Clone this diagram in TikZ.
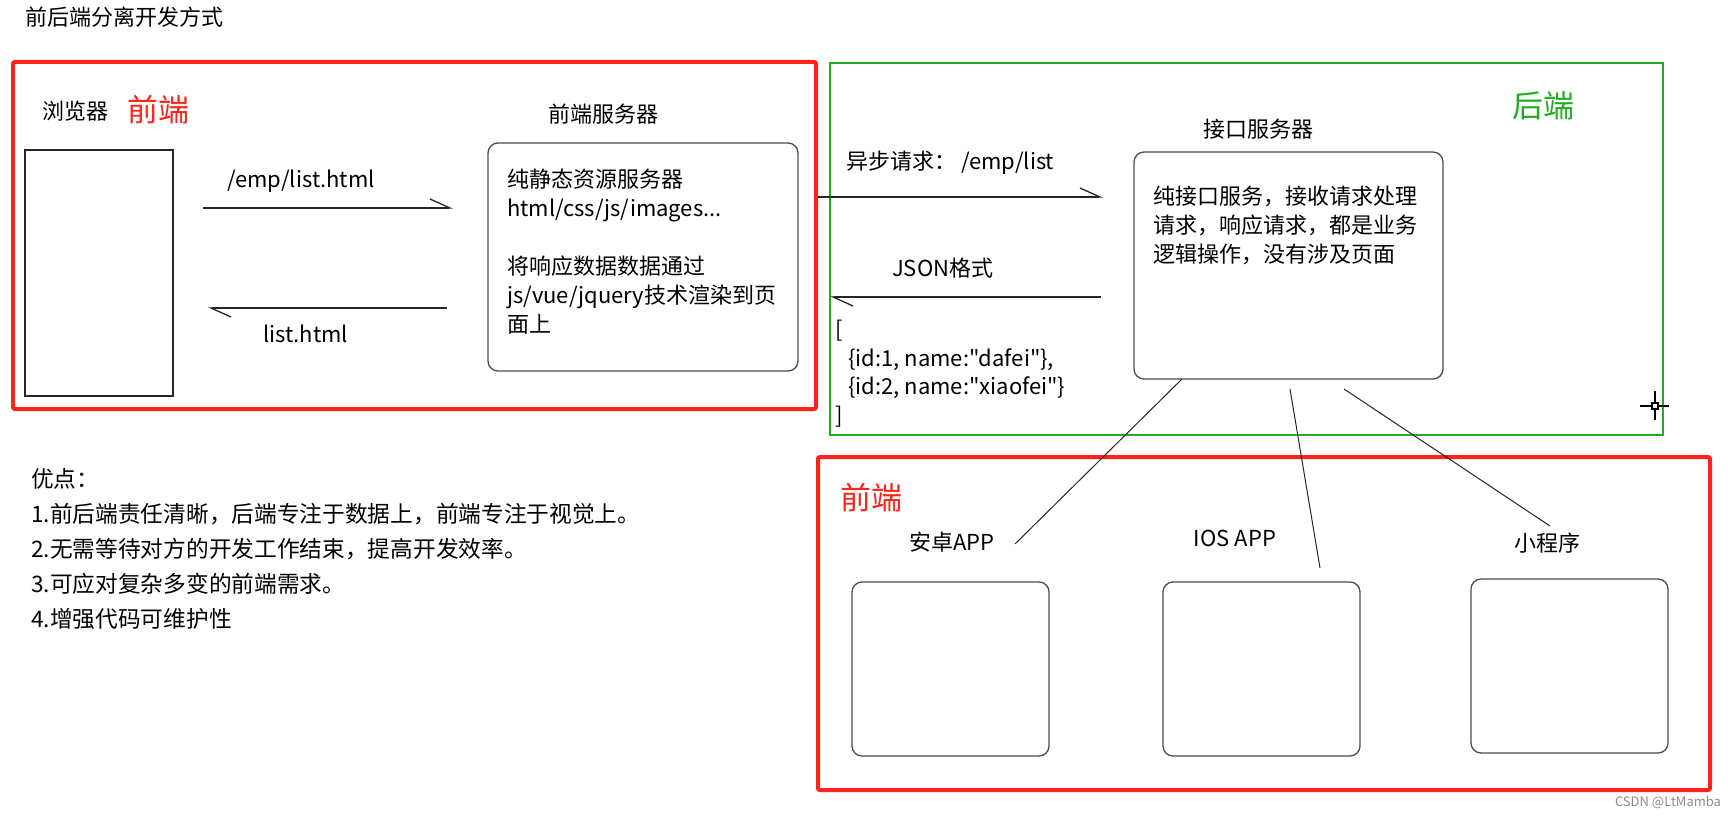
\documentclass[tikz,border=0pt]{standalone}
\usepackage{fontspec}
\setmainfont{Noto Sans CJK SC}[Ligatures=TeXOff]
\usetikzlibrary{arrows.meta}

\definecolor{frontred}{RGB}{255,36,28}
\definecolor{backgreen}{RGB}{34,172,34}

\tikzset{
  txt/.style={font=\fontsize{22}{29}\selectfont, inner sep=0pt},
  bigtxt/.style={font=\fontsize{31}{36}\selectfont, inner sep=0pt},
  box/.style={draw=black!70, line width=1.3pt, rounded corners=10pt},
  zone/.style={draw=frontred, line width=4pt, rounded corners=2pt},
  backzone/.style={draw=backgreen, line width=2pt},
  half/.style={draw=black!85, line width=1.3pt, -{Straight Barb[harpoon, length=20pt, width=18pt]}},
  link/.style={draw=black!85, line width=1pt},
}

\begin{document}
\begin{tikzpicture}[x=1pt,y=-1pt]
\useasboundingbox (0,0) rectangle (1728,816);

% zones
\draw[zone] (13,62) rectangle (816,409);
\draw[backzone] (830,63) rectangle (1663,435);
\draw[zone] (818,457) rectangle (1710,790);

\node[txt, anchor=west] (title) at (25,17) {前后端分离开发方式};

% browser and front-end server
\node[txt, anchor=west] (browserlbl) at (42,111) {浏览器};
\node[bigtxt, text=frontred, anchor=west] (front) at (127,110) {前端};
\node[draw=black!85, line width=1.2pt, minimum width=148pt, minimum height=246pt] (browser) at (99,273) {};

\node[txt] (fserverlbl) at (603,114) {前端服务器};
\node[box, minimum width=310pt, minimum height=228pt] (fserver) at (643,257) {};
\node[txt, anchor=north west, align=left] (fservertxt) at (507,169) {纯静态资源服务器\\html/css/js/images...\\[29pt]将响应数据数据通过\\js/vue/jquery技术渲染到页\\面上};

\coordinate (req0) at (203,208);
\coordinate (req1) at (453,208);
\coordinate (res0) at (447,308);
\coordinate (res1) at (208,308);
\path[half] (req0) -- (req1);
\path[half] (res0) -- (res1);
\node[txt, anchor=west] (reqlbl) at (227,181) {/emp/list.html};
\node[txt, anchor=west] (reslbl) at (263,334) {list.html};

% back-end
\node[bigtxt, text=backgreen] (back) at (1543,106) {后端};
\node[txt] (iserverlbl) at (1258,129) {接口服务器};
\node[box, minimum width=309pt, minimum height=227pt] (iserver) at (1288.5,265.5) {};
\node[txt, anchor=north west, align=left] (iservertxt) at (1153,186) {纯接口服务，接收请求处理\\请求，响应请求，都是业务\\逻辑操作，没有涉及页面};

\coordinate (ajax0) at (818,197);
\coordinate (ajax1) at (1103,197);
\coordinate (json0) at (1101,297);
\coordinate (json1) at (830,297);
\path[half] (ajax0) -- (ajax1);
\path[half] (json0) -- (json1);
\node[txt, anchor=west] (ajaxlbl) at (846,163) {异步请求： /emp/list};
\node[txt, anchor=west] (jsonlbl) at (892,268) {JSON格式};
\node[txt, anchor=north west, align=left, font=\fontsize{22}{28.5}\selectfont] (jsondata) at (835,320) {[\\\hspace*{13pt}\{id:1, name:"dafei"\},\\\hspace*{13pt}\{id:2, name:"xiaofei"\}\\]};

% cursor
\coordinate (cursor) at (1655,406);
\draw[line width=1.5pt] ([yshift=-14pt]cursor) -- ([yshift=15pt]cursor);
\draw[line width=1.5pt] ([xshift=-15pt]cursor) -- ([xshift=14pt]cursor);
\draw[line width=1.2pt, fill=white] ([shift={(-3pt,-3pt)}]cursor) rectangle ([shift={(3pt,3pt)}]cursor);

% apps
\node[bigtxt, text=frontred, anchor=west] (front2) at (840,498) {前端};
\node[txt] (androidlbl) at (952,542) {安卓APP};
\node[txt] (ioslbl) at (1235,538) {IOS APP};
\node[txt] (minilbl) at (1547,543) {小程序};
\node[box, minimum width=197pt, minimum height=174pt] (android) at (950.5,669) {};
\node[box, minimum width=197pt, minimum height=174pt] (ios) at (1261.5,669) {};
\node[box, minimum width=197pt, minimum height=174pt] (mini) at (1569.5,666) {};

\coordinate (l1a) at (1182,379);
\coordinate (l1b) at (1015,544);
\coordinate (l2a) at (1290,389);
\coordinate (l2b) at (1320,568);
\coordinate (l3a) at (1344,389);
\coordinate (l3b) at (1550,526);
\path[link] (l1a) -- (l1b);
\path[link] (l2a) -- (l2b);
\path[link] (l3a) -- (l3b);

% pros
\node[txt, anchor=north west, align=left, font=\fontsize{22.7}{35}\selectfont] (pros) at (31,468) {优点：\\1.前后端责任清晰，后端专注于数据上，前端专注于视觉上。\\2.无需等待对方的开发工作结束，提高开发效率。\\3.可应对复杂多变的前端需求。\\4.增强代码可维护性};

\node[font=\fontsize{13}{15}\selectfont, text=black!45, inner sep=0pt] (mark) at (1668,802) {CSDN @LtMamba};
\end{tikzpicture}
\end{document}
